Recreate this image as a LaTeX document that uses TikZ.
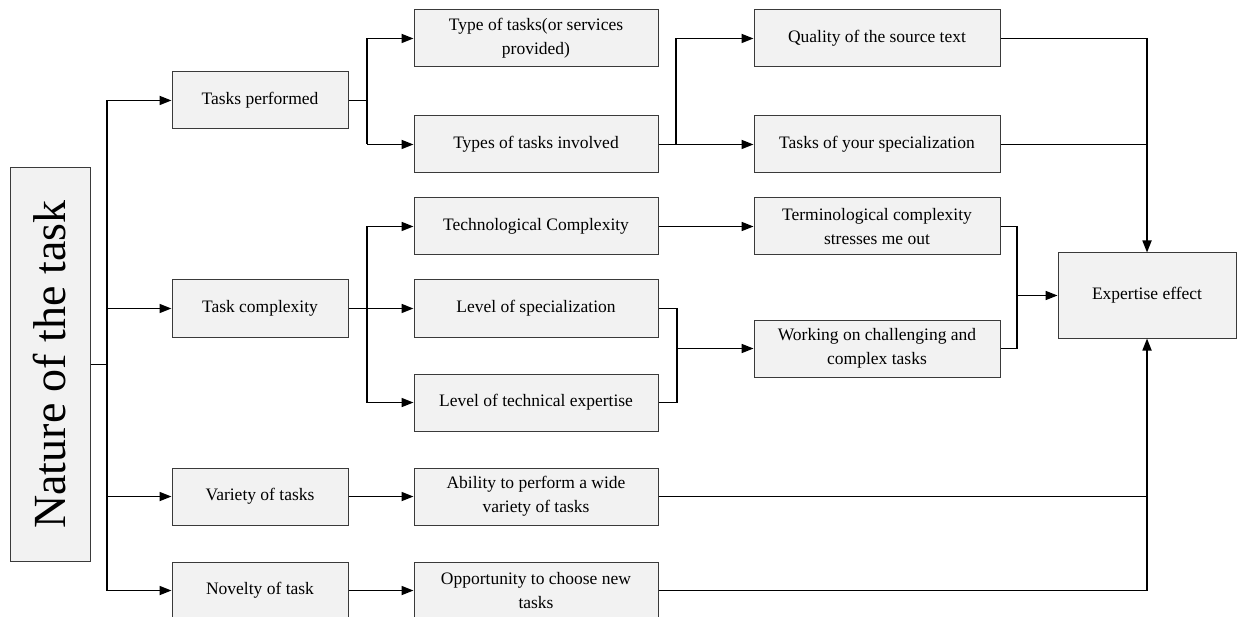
\documentclass[tikz,border=0pt]{standalone}
\usepackage{fontspec}
\setmainfont{Liberation Serif}
\usetikzlibrary{arrows.meta}
\definecolor{boxfill}{HTML}{F2F2F2}
\definecolor{boxline}{HTML}{3A3A3A}
\begin{document}
\begin{tikzpicture}[x=1pt,y=-1pt,
  box/.style={draw=boxline,line width=1pt,fill=boxfill,inner sep=0pt,
    align=center,font=\fontsize{17.5}{24}\selectfont},
  lvone/.style={box,minimum width=176pt,minimum height=57pt},
  lvtwo/.style={box,minimum width=244pt,minimum height=57pt},
  lvthree/.style={box,minimum width=246pt,minimum height=57pt},
  link/.style={line width=1.7pt,black},
  arr/.style={link,-{Triangle[length=12pt,width=9pt]}}]
\useasboundingbox (0,0) rectangle (1241,617);

% root
\node[box,minimum width=80pt,minimum height=393pt] (nat) at (50,364.5)
  {\rotatebox{90}{\fontsize{46}{46}\selectfont Nature of the task}};

% first level
\node[lvone] (tp) at (260,100.5) {Tasks performed};
\node[lvone] (tc) at (260,308.5) {Task complexity};
\node[lvone] (vt) at (260,496.5) {Variety of tasks};
\node[lvone] (nt) at (260,590.5) {Novelty of task};

% second level
\node[lvtwo] (t1) at (536,38.5) {Type of tasks(or services\\provided)};
\node[lvtwo] (t2) at (536,144.5) {Types of tasks involved};
\node[lvtwo] (c1) at (536,226.5) {Technological Complexity};
\node[lvtwo] (c2) at (536,308.5) {Level of specialization};
\node[lvtwo] (c3) at (536,402.5) {Level of technical expertise};
\node[lvtwo] (v1) at (536,496.5) {Ability to perform a wide\\variety of tasks};
\node[lvtwo] (n1) at (536,590.5) {Opportunity to choose new\\tasks};

% third level
\node[lvthree] (q)  at (877,38.5) {Quality of the source text};
\node[lvthree] (s)  at (877,144.5) {Tasks of your specialization};
\node[lvthree] (tm) at (877,226.5) {Terminological complexity\\stresses me out};
\node[lvthree] (w)  at (877,348.5) {Working on challenging and\\complex tasks};

% outcome
\node[box,minimum width=178pt,minimum height=85pt] (ex) at (1147,295.5) {Expertise effect};

% junction points
\coordinate (bus) at (107,364.5);
\coordinate (jtp) at (367,100.5);
\coordinate (jtc) at (367,308.5);
\coordinate (jt2) at (676,144.5);
\coordinate (jlv) at (677,348.5);
\coordinate (jtw) at (1017,295.5);
\coordinate (col) at (1147,0);

% root fan-out
\draw[link] (nat.east) -- (bus);
\draw[link] (bus |- tp) -- (bus |- nt);
\foreach \n in {tp,tc,vt,nt} \draw[arr] (bus |- \n) -- (\n.west);

% tasks performed
\draw[link] (tp.east) -- (jtp);
\draw[link] (jtp |- t1) -- (jtp |- t2);
\draw[arr] (jtp |- t1) -- (t1.west);
\draw[arr] (jtp |- t2) -- (t2.west);

% task complexity
\draw[link] (tc.east) -- (jtc);
\draw[link] (jtc |- c1) -- (jtc |- c3);
\foreach \n in {c1,c2,c3} \draw[arr] (jtc |- \n) -- (\n.west);

% variety and novelty
\draw[arr] (vt.east) -- (v1.west);
\draw[arr] (nt.east) -- (n1.west);

% types of tasks involved
\draw[link] (t2.east) -- (jt2);
\draw[link] (jt2 |- q) -- (jt2);
\draw[arr] (jt2 |- q) -- (q.west);
\draw[arr] (jt2) -- (s.west);

% complexity to third level
\draw[arr] (c1.east) -- (tm.west);
\draw[link] (c2.east) -- (jlv |- c2) -- (jlv |- c3) -- (c3.east);
\draw[arr] (jlv) -- (w.west);

% into the outcome
\draw[link] (tm.east) -- (jtw |- tm) -- (jtw |- w) -- (w.east);
\draw[arr] (jtw) -- (ex.west);
\draw[link] (q.east) -- (col |- q);
\draw[link] (s.east) -- (col |- s);
\draw[arr] (col |- q) -- (ex.north);
\draw[link] (v1.east) -- (col |- v1);
\draw[link] (n1.east) -- (col |- n1);
\draw[arr] (col |- n1) -- (ex.south);
\end{tikzpicture}
\end{document}
